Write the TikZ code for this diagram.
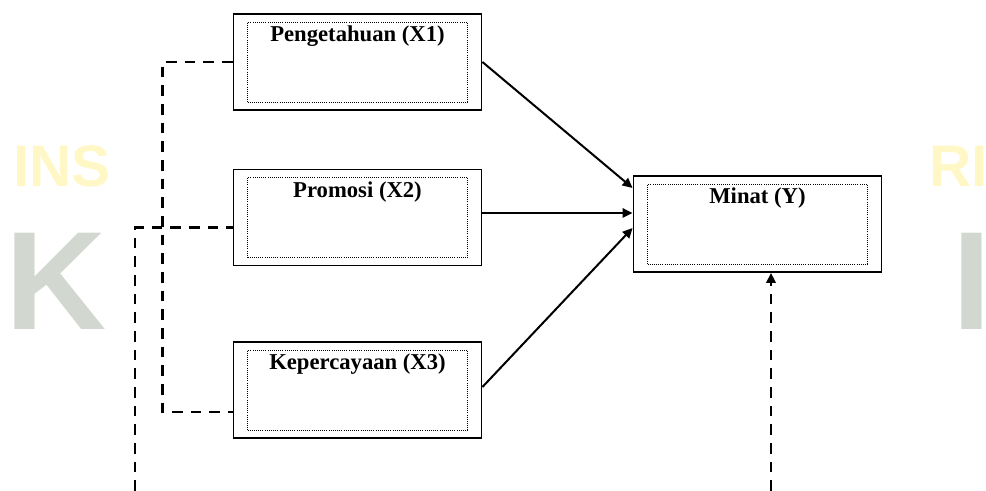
\documentclass[tikz,border=0pt]{standalone}
\usepackage{fontspec}
\setmainfont{Liberation Serif}
\newfontfamily\wmfont{Liberation Sans}
\usetikzlibrary{arrows.meta,calc}
\definecolor{wmyellow}{HTML}{FFF8C6}
\definecolor{wmgrey}{HTML}{D2D8D0}
\tikzset{
  outbox/.style={draw,line width=1.4pt,fill=white,inner sep=0pt,minimum width=186pt,minimum height=72pt},
  inbox/.style={draw,densely dotted,line width=0.6pt,inner sep=0pt,minimum width=165pt,minimum height=60pt},
  lbl/.style={anchor=north,inner sep=0pt,font=\fontsize{17}{20}\selectfont\bfseries},
  arr/.style={line width=1.5pt,-{Triangle[length=7.5pt,width=7pt]}},
  dashline/.style={line width=1.8pt,dash pattern=on 8pt off 6pt},
  wm/.style={inner sep=0pt,text=wmyellow,font=\wmfont\bfseries\fontsize{44}{44}\selectfont},
  wmbig/.style={inner sep=0pt,text=wmgrey,font=\wmfont\bfseries\fontsize{105}{105}\selectfont}
}
\begin{document}
\begin{tikzpicture}[x=0.75pt,y=-0.75pt]
\useasboundingbox (0,0) rectangle (986,491);
\node[wm,anchor=base west] (wmins) at (13,187) {INS};
\node[wm,anchor=base east] (wmri) at (988,187) {RI};
\node[wmbig,anchor=base west] (wmk) at (5,330) {K};
\node[wmbig,anchor=base east] (wmi) at (992,330) {I};

\node[outbox] (x1) at (357.5,62) {};
\node[inbox] (x1in) at (x1) {};
\node[lbl] (x1lbl) at ([yshift=-3pt]x1in.north) {Pengetahuan (X1)};
\node[outbox] (x2) at (357.5,217.5) {};
\node[inbox] (x2in) at (x2) {};
\node[lbl] (x2lbl) at ([yshift=-3pt]x2in.north) {Promosi (X2)};
\node[outbox] (x3) at (357.5,390) {};
\node[inbox] (x3in) at (x3) {};
\node[lbl] (x3lbl) at ([yshift=-3pt]x3in.north) {Kepercayaan (X3)};
\node[outbox] (y) at (757.5,224) {};
\node[inbox] (yin) at (y) {};
\node[lbl] (ylbl) at ([yshift=-3pt]yin.north) {Minat (Y)};

\draw[arr] (x1.east) -- ($(y.west)+(0,-36)$);
\draw[arr] ($(x2.east)+(0,-4.5)$) -- ($(y.west)+(0,-11)$);
\draw[arr] ($(x3.east)+(0,-3)$) -- ($(y.west)+(0,4)$);

\coordinate (src1) at (135,491);
\coordinate (src2) at (771,491);
\draw[dashline] (x1.west) -- ++(-70,0) |- ($(x3.west)+(0,22)$);
\draw[dashline] (src1) |- ($(x2.west)+(0,10)$);
\draw[dashline,-{Triangle[length=7.5pt,width=7pt]}] (src2) -- (src2 |- y.south);
\end{tikzpicture}
\end{document}
